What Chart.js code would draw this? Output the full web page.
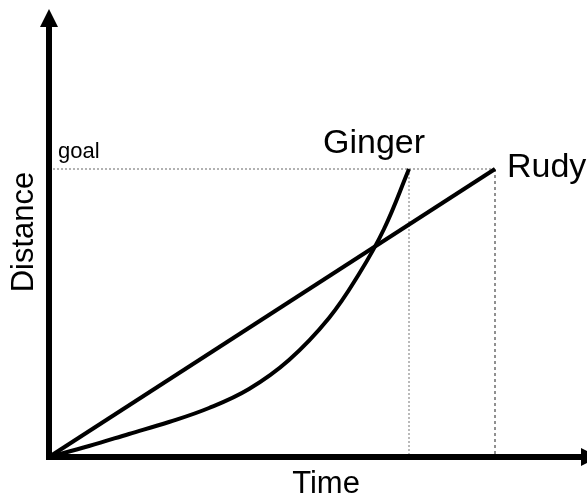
<!DOCTYPE html>
<html>
<head>
<meta charset="utf-8">
<script src="https://cdn.jsdelivr.net/npm/chart.js@4/dist/chart.umd.min.js"></script>
<style>
  html, body { margin: 0; padding: 0; background: #fff; }
  #wrap { width: 587px; height: 496px; }
</style>
</head>
<body>
<div id="wrap"><canvas id="chartOne"></canvas></div>
<script>
// datos (unidades arbitrarias)
const gingerTime = [0, 40, 80, 120, 160, 200, 240, 280, 310, 335, 360];
const gingerDist = [0, 11, 23, 35, 49, 68, 97, 139, 183, 228, 288];
const rudyTime = [0, 446];
const rudyDist = [0, 288];
const goal = 288;
const axisRange = { xMin: -49, xMax: 538, yMin: -39, yMax: 457 };

const ginger = gingerTime.map((t, i) => ({ x: t, y: gingerDist[i] }));
const rudy = rudyTime.map((t, i) => ({ x: t, y: rudyDist[i] }));
const gingerEnd = ginger[ginger.length - 1];
const rudyEnd = rudy[rudy.length - 1];

const FONT = '"Liberation Sans", Arial, sans-serif';

// ejes con flechas y textos
const decoraciones = {
    id: "decoraciones",
    afterDatasetsDraw(chart) {
        const ctx = chart.ctx;
        const sx = chart.scales.x;
        const sy = chart.scales.y;
        const x0 = sx.getPixelForValue(0);
        const y0 = sy.getPixelForValue(0);
        ctx.save();
        ctx.fillStyle = "#000";
        ctx.strokeStyle = "#000";
        ctx.lineWidth = 6;
        ctx.lineCap = "butt";
        // eje y
        ctx.beginPath();
        ctx.moveTo(x0, y0 + 3);
        ctx.lineTo(x0, 26);
        ctx.stroke();
        ctx.beginPath();
        ctx.moveTo(x0, 9);
        ctx.lineTo(x0 - 9, 27);
        ctx.lineTo(x0 + 9, 27);
        ctx.closePath();
        ctx.fill();
        // eje x
        ctx.beginPath();
        ctx.moveTo(x0 - 3, y0);
        ctx.lineTo(582, y0);
        ctx.stroke();
        ctx.beginPath();
        ctx.moveTo(599, y0);
        ctx.lineTo(581, y0 - 9);
        ctx.lineTo(581, y0 + 9);
        ctx.closePath();
        ctx.fill();

        // textos
        ctx.textAlign = "left";
        ctx.textBaseline = "alphabetic";
        ctx.font = "34px " + FONT;
        ctx.fillText("Ginger", sx.getPixelForValue(gingerEnd.x) - 86, sy.getPixelForValue(gingerEnd.y) - 16);
        ctx.fillText("Rudy", sx.getPixelForValue(rudyEnd.x) + 12, sy.getPixelForValue(rudyEnd.y) + 8);
        ctx.font = "22px " + FONT;
        ctx.fillText("goal", x0 + 9, sy.getPixelForValue(goal) - 11);
        ctx.font = "31px " + FONT;
        ctx.textAlign = "center";
        ctx.fillText("Time", 326, 493);
        ctx.save();
        ctx.translate(33, 232);
        ctx.rotate(-Math.PI / 2);
        ctx.fillText("Distance", 0, 0);
        ctx.restore();
        ctx.restore();
    },
};

const ctx1 = document.getElementById("chartOne").getContext("2d");
const grafica = new Chart(ctx1, {
    type: "scatter",
    data: {
        datasets: [
            {
                label: "goal",
                data: [{ x: 0, y: goal }, { x: rudyEnd.x, y: goal }],
                showLine: true,
                borderColor: "#666",
                borderWidth: 1,
                borderDash: [2, 2],
                pointRadius: 0,
                order: 3,
            },
            {
                label: "Ginger llega",
                data: [{ x: gingerEnd.x, y: goal }, { x: gingerEnd.x, y: 0 }],
                showLine: true,
                borderColor: "#777",
                borderWidth: 1,
                borderDash: [2, 2],
                pointRadius: 0,
                order: 3,
            },
            {
                label: "Rudy llega",
                data: [{ x: rudyEnd.x, y: goal }, { x: rudyEnd.x, y: 0 }],
                showLine: true,
                borderColor: "#222",
                borderWidth: 1,
                borderDash: [3, 3],
                pointRadius: 0,
                order: 3,
            },
            {
                label: "Rudy",
                data: rudy,
                showLine: true,
                borderColor: "#000",
                borderWidth: 4,
                pointRadius: 0,
                order: 1,
            },
            {
                label: "Ginger",
                data: ginger,
                showLine: true,
                borderColor: "#000",
                borderWidth: 4,
                pointRadius: 0,
                tension: 0.4,
                order: 1,
            },
        ],
    },
    options: {
        responsive: true,
        maintainAspectRatio: false,
        animation: false,
        layout: { padding: 0 },
        plugins: {
            legend: { display: false },
            tooltip: { enabled: false },
        },
        scales: {
            x: { type: "linear", display: false, min: axisRange.xMin, max: axisRange.xMax },
            y: { type: "linear", display: false, min: axisRange.yMin, max: axisRange.yMax },
        },
    },
    plugins: [decoraciones],
});
</script>
</body>
</html>
